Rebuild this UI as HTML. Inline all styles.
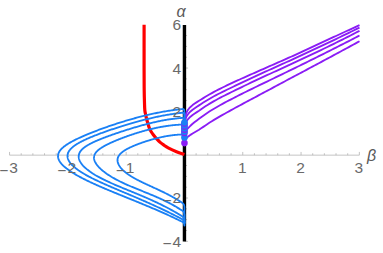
<!DOCTYPE html>
<html><head><meta charset="utf-8"><style>
html,body{margin:0;padding:0;background:#fff;}
body{width:383px;height:253px;position:relative;overflow:hidden;font-family:"Liberation Sans",sans-serif;}
.l{position:absolute;font-size:15.5px;line-height:16px;color:#6a6a6a;white-space:nowrap;}
.m{position:relative;top:2.5px;left:-1.1px}
.i{position:absolute;font-family:"Liberation Sans",sans-serif;font-style:italic;font-size:16px;line-height:16px;color:#5a5a5a;}
</style></head><body>
<svg width="383" height="253" viewBox="0 0 383 253" style="position:absolute;left:0;top:0">
<g stroke="#b4b4b4" stroke-width="0.8" fill="none">
<path d="M9.55,155.15 H359.35"/>
<path d="M9.55,155.15 v-3.20 M21.21,155.15 v-1.90 M32.87,155.15 v-1.90 M44.53,155.15 v-1.90 M56.19,155.15 v-1.90 M67.85,155.15 v-3.20 M79.51,155.15 v-1.90 M91.17,155.15 v-1.90 M102.83,155.15 v-1.90 M114.49,155.15 v-1.90 M126.15,155.15 v-3.20 M137.81,155.15 v-1.90 M149.47,155.15 v-1.90 M161.13,155.15 v-1.90 M172.79,155.15 v-1.90 M196.11,155.15 v-1.90 M207.77,155.15 v-1.90 M219.43,155.15 v-1.90 M231.09,155.15 v-1.90 M242.75,155.15 v-3.20 M254.41,155.15 v-1.90 M266.07,155.15 v-1.90 M277.73,155.15 v-1.90 M289.39,155.15 v-1.90 M301.05,155.15 v-3.20 M312.71,155.15 v-1.90 M324.37,155.15 v-1.90 M336.03,155.15 v-1.90 M347.69,155.15 v-1.90 M359.35,155.15 v-3.20 "/>
<path d="M184.45,241.34 h3.60 M184.45,230.51 h2.60 M184.45,219.68 h2.60 M184.45,208.85 h2.60 M184.45,198.02 h3.60 M184.45,187.19 h2.60 M184.45,176.36 h2.60 M184.45,165.53 h2.60 M184.45,143.87 h2.60 M184.45,133.04 h2.60 M184.45,122.21 h2.60 M184.45,111.38 h3.60 M184.45,100.55 h2.60 M184.45,89.72 h2.60 M184.45,78.89 h2.60 M184.45,68.06 h3.60 M184.45,57.23 h2.60 M184.45,46.40 h2.60 M184.45,35.57 h2.60 "/>
</g>
<path d="M184.45,25.00 V241.60" stroke="#000" stroke-width="3.4" fill="none"/>
<path d="M144.10,24.80 C144.10,32.33 144.08,59.13 144.10,70.00 C144.12,80.87 144.13,84.50 144.20,90.00 C144.27,95.50 144.40,99.67 144.50,103.00 C144.60,106.33 144.62,108.08 144.80,110.00 C144.98,111.92 145.32,113.08 145.60,114.50 C145.88,115.92 146.17,117.17 146.50,118.50 C146.83,119.83 147.13,120.92 147.60,122.50 C148.07,124.08 148.70,126.45 149.30,128.00 C149.90,129.55 150.50,130.63 151.20,131.80 C151.90,132.97 152.62,133.87 153.50,135.00 C154.38,136.13 155.43,137.42 156.50,138.60 C157.57,139.78 158.65,141.00 159.90,142.10 C161.15,143.20 162.62,144.23 164.00,145.20 C165.38,146.17 166.12,146.82 168.20,147.90 C170.28,148.98 173.80,150.62 176.50,151.70 C179.20,152.78 183.08,153.95 184.40,154.40" stroke="#ff0000" stroke-width="3.2" fill="none"/>
<path d="M184.45,122.00 L184.60,119.86 L184.76,118.80 L184.91,117.94 L185.07,117.19 L185.22,116.52 L185.37,115.92 L185.53,115.36 L185.68,114.84 L185.83,114.36 L185.99,113.92 L186.14,113.49 L186.30,113.10 L186.45,112.73 L186.60,112.37 L186.76,112.04 L186.91,111.72 L187.07,111.42 L187.22,111.13 L187.37,110.85 L187.53,110.59 L187.68,110.34 L187.83,110.09 L187.99,109.86 L188.14,109.64 L188.30,109.42 L188.45,109.21 L188.60,109.00 L188.76,108.81 L188.91,108.62 L189.07,108.43 L189.22,108.25 L189.37,108.07 L189.53,107.90 L189.68,107.73 L189.83,107.56 L189.99,107.40 L190.14,107.24 L190.30,107.09 L190.45,106.94 L192.59,105.09 L194.73,103.54 L196.87,102.13 L199.01,100.76 L201.15,99.41 L203.29,98.09 L205.43,96.79 L207.57,95.52 L209.71,94.28 L211.85,93.08 L213.99,91.91 L216.13,90.79 L218.27,89.68 L220.41,88.60 L222.55,87.54 L224.69,86.49 L226.83,85.45 L228.97,84.43 L231.11,83.42 L233.25,82.42 L235.39,81.43 L237.53,80.44 L239.67,79.47 L241.81,78.50 L243.95,77.54 L246.09,76.59 L248.23,75.63 L250.37,74.69 L252.51,73.74 L254.65,72.80 L256.79,71.86 L258.93,70.91 L261.07,69.97 L263.21,69.03 L265.35,68.09 L267.49,67.15 L269.63,66.21 L271.77,65.27 L273.91,64.33 L276.04,63.39 L278.18,62.44 L280.32,61.50 L282.46,60.55 L284.60,59.61 L286.74,58.66 L288.88,57.70 L291.02,56.75 L293.16,55.79 L295.30,54.81 L297.44,53.84 L299.58,52.85 L301.72,51.87 L303.86,50.87 L306.00,49.88 L308.14,48.88 L310.28,47.88 L312.42,46.88 L314.56,45.87 L316.70,44.87 L318.84,43.88 L320.98,42.88 L323.12,41.89 L325.26,40.90 L327.40,39.92 L329.54,38.93 L331.68,37.95 L333.82,36.96 L335.96,35.97 L338.10,34.98 L340.24,34.00 L342.38,33.01 L344.52,32.02 L346.66,31.03 L348.80,30.04 L350.94,29.05 L353.08,28.06 L355.22,27.07 L357.36,26.08 L359.50,25.09" stroke="#8a1cf5" stroke-width="1.85" fill="none" stroke-linejoin="round"/>
<path d="M184.45,125.40 L184.60,123.00 L184.76,121.97 L184.91,121.18 L185.07,120.51 L185.22,119.92 L185.37,119.40 L185.53,118.92 L185.68,118.48 L185.83,118.07 L185.99,117.69 L186.14,117.34 L186.30,117.00 L186.45,116.69 L186.60,116.39 L186.76,116.10 L186.91,115.83 L187.07,115.57 L187.22,115.32 L187.37,115.08 L187.53,114.85 L187.68,114.63 L187.83,114.41 L187.99,114.20 L188.14,114.00 L188.30,113.81 L188.45,113.62 L188.60,113.43 L188.76,113.25 L188.91,113.08 L189.07,112.90 L189.22,112.74 L189.37,112.57 L189.53,112.41 L189.68,112.25 L189.83,112.09 L189.99,111.93 L190.14,111.78 L190.30,111.63 L190.45,111.48 L192.59,109.68 L194.73,108.15 L196.87,106.74 L199.01,105.36 L201.15,103.95 L203.29,102.58 L205.43,101.24 L207.57,99.95 L209.71,98.69 L211.85,97.47 L213.99,96.29 L216.13,95.15 L218.27,94.04 L220.41,92.95 L222.55,91.88 L224.69,90.83 L226.83,89.79 L228.97,88.76 L231.11,87.73 L233.25,86.72 L235.39,85.70 L237.53,84.69 L239.67,83.68 L241.81,82.66 L243.95,81.65 L246.09,80.64 L248.23,79.62 L250.37,78.62 L252.51,77.61 L254.65,76.62 L256.79,75.62 L258.93,74.64 L261.07,73.66 L263.21,72.69 L265.35,71.71 L267.49,70.74 L269.63,69.77 L271.77,68.80 L273.91,67.84 L276.04,66.87 L278.18,65.90 L280.32,64.93 L282.46,63.96 L284.60,62.99 L286.74,62.02 L288.88,61.04 L291.02,60.06 L293.16,59.08 L295.30,58.10 L297.44,57.12 L299.58,56.13 L301.72,55.14 L303.86,54.15 L306.00,53.16 L308.14,52.16 L310.28,51.17 L312.42,50.17 L314.56,49.16 L316.70,48.16 L318.84,47.16 L320.98,46.15 L323.12,45.14 L325.26,44.13 L327.40,43.12 L329.54,42.10 L331.68,41.08 L333.82,40.06 L335.96,39.04 L338.10,38.01 L340.24,36.98 L342.38,35.95 L344.52,34.91 L346.66,33.88 L348.80,32.84 L350.94,31.79 L353.08,30.75 L355.22,29.70 L357.36,28.65 L359.50,27.60" stroke="#8a1cf5" stroke-width="1.85" fill="none" stroke-linejoin="round"/>
<path d="M184.45,129.60 L184.60,127.08 L184.76,126.10 L184.91,125.36 L185.07,124.76 L185.22,124.23 L185.37,123.77 L185.53,123.36 L185.68,122.98 L185.83,122.62 L185.99,122.30 L186.14,121.99 L186.30,121.70 L186.45,121.43 L186.60,121.17 L186.76,120.92 L186.91,120.68 L187.07,120.46 L187.22,120.24 L187.37,120.03 L187.53,119.82 L187.68,119.62 L187.83,119.43 L187.99,119.25 L188.14,119.06 L188.30,118.89 L188.45,118.71 L188.60,118.54 L188.76,118.38 L188.91,118.22 L189.07,118.06 L189.22,117.90 L189.37,117.74 L189.53,117.59 L189.68,117.44 L189.83,117.29 L189.99,117.14 L190.14,116.99 L190.30,116.85 L190.45,116.71 L192.59,114.97 L194.73,113.49 L196.87,112.11 L199.01,110.71 L201.15,109.22 L203.29,107.77 L205.43,106.35 L207.57,104.98 L209.71,103.65 L211.85,102.37 L213.99,101.13 L216.13,99.94 L218.27,98.78 L220.41,97.65 L222.55,96.54 L224.69,95.46 L226.83,94.38 L228.97,93.32 L231.11,92.27 L233.25,91.22 L235.39,90.18 L237.53,89.14 L239.67,88.11 L241.81,87.07 L243.95,86.04 L246.09,85.00 L248.23,83.97 L250.37,82.95 L252.51,81.93 L254.65,80.92 L256.79,79.91 L258.93,78.91 L261.07,77.92 L263.21,76.93 L265.35,75.95 L267.49,74.96 L269.63,73.98 L271.77,73.00 L273.91,72.03 L276.04,71.05 L278.18,70.07 L280.32,69.09 L282.46,68.11 L284.60,67.13 L286.74,66.15 L288.88,65.16 L291.02,64.17 L293.16,63.18 L295.30,62.19 L297.44,61.19 L299.58,60.20 L301.72,59.20 L303.86,58.20 L306.00,57.19 L308.14,56.19 L310.28,55.18 L312.42,54.16 L314.56,53.15 L316.70,52.13 L318.84,51.10 L320.98,50.08 L323.12,49.04 L325.26,48.01 L327.40,46.96 L329.54,45.92 L331.68,44.87 L333.82,43.81 L335.96,42.76 L338.10,41.69 L340.24,40.63 L342.38,39.56 L344.52,38.48 L346.66,37.40 L348.80,36.32 L350.94,35.23 L353.08,34.13 L355.22,33.04 L357.36,31.93 L359.50,30.83" stroke="#8a1cf5" stroke-width="1.85" fill="none" stroke-linejoin="round"/>
<path d="M184.45,136.30 L184.60,134.24 L184.76,133.50 L184.91,132.96 L185.07,132.53 L185.22,132.16 L185.37,131.83 L185.53,131.53 L185.68,131.26 L185.83,131.01 L185.99,130.77 L186.14,130.54 L186.30,130.32 L186.45,130.11 L186.60,129.90 L186.76,129.71 L186.91,129.51 L187.07,129.33 L187.22,129.14 L187.37,128.96 L187.53,128.79 L187.68,128.61 L187.83,128.44 L187.99,128.27 L188.14,128.10 L188.30,127.94 L188.45,127.77 L188.60,127.61 L188.76,127.45 L188.91,127.29 L189.07,127.13 L189.22,126.98 L189.37,126.82 L189.53,126.66 L189.68,126.51 L189.83,126.36 L189.99,126.20 L190.14,126.05 L190.30,125.90 L190.45,125.75 L192.59,123.81 L194.73,122.07 L196.87,120.43 L199.01,118.82 L201.15,117.19 L203.29,115.64 L205.43,114.15 L207.57,112.72 L209.71,111.34 L211.85,110.00 L213.99,108.70 L216.13,107.43 L218.27,106.19 L220.41,104.99 L222.55,103.82 L224.69,102.67 L226.83,101.54 L228.97,100.42 L231.11,99.32 L233.25,98.21 L235.39,97.11 L237.53,96.01 L239.67,94.92 L241.81,93.84 L243.95,92.77 L246.09,91.71 L248.23,90.65 L250.37,89.60 L252.51,88.56 L254.65,87.52 L256.79,86.48 L258.93,85.45 L261.07,84.42 L263.21,83.39 L265.35,82.36 L267.49,81.33 L269.63,80.29 L271.77,79.26 L273.91,78.22 L276.04,77.18 L278.18,76.14 L280.32,75.10 L282.46,74.06 L284.60,73.02 L286.74,71.98 L288.88,70.94 L291.02,69.90 L293.16,68.86 L295.30,67.82 L297.44,66.78 L299.58,65.73 L301.72,64.68 L303.86,63.62 L306.00,62.57 L308.14,61.51 L310.28,60.45 L312.42,59.39 L314.56,58.33 L316.70,57.26 L318.84,56.20 L320.98,55.13 L323.12,54.06 L325.26,52.99 L327.40,51.92 L329.54,50.85 L331.68,49.77 L333.82,48.69 L335.96,47.61 L338.10,46.53 L340.24,45.44 L342.38,44.35 L344.52,43.26 L346.66,42.16 L348.80,41.07 L350.94,39.96 L353.08,38.86 L355.22,37.76 L357.36,36.65 L359.50,35.54" stroke="#8a1cf5" stroke-width="1.85" fill="none" stroke-linejoin="round"/>
<path d="M184.45,142.80 L184.60,141.62 L184.76,141.09 L184.91,140.67 L185.07,140.32 L185.22,140.00 L185.37,139.71 L185.53,139.45 L185.68,139.21 L185.83,138.98 L185.99,138.77 L186.14,138.57 L186.30,138.38 L186.45,138.19 L186.60,138.02 L186.76,137.86 L186.91,137.70 L187.07,137.54 L187.22,137.40 L187.37,137.25 L187.53,137.12 L187.68,136.98 L187.83,136.85 L187.99,136.72 L188.14,136.60 L188.30,136.47 L188.45,136.35 L188.60,136.23 L188.76,136.12 L188.91,136.00 L189.07,135.89 L189.22,135.77 L189.37,135.66 L189.53,135.55 L189.68,135.43 L189.83,135.32 L189.99,135.21 L190.14,135.10 L190.30,134.99 L190.45,134.88 L192.59,133.50 L194.73,132.23 L196.87,130.98 L199.01,129.69 L201.15,128.31 L203.29,126.89 L205.43,125.46 L207.57,124.02 L209.71,122.60 L211.85,121.21 L213.99,119.88 L216.13,118.61 L218.27,117.36 L220.41,116.13 L222.55,114.92 L224.69,113.71 L226.83,112.52 L228.97,111.34 L231.11,110.16 L233.25,108.98 L235.39,107.81 L237.53,106.65 L239.67,105.49 L241.81,104.33 L243.95,103.18 L246.09,102.03 L248.23,100.88 L250.37,99.74 L252.51,98.59 L254.65,97.45 L256.79,96.31 L258.93,95.17 L261.07,94.03 L263.21,92.88 L265.35,91.74 L267.49,90.60 L269.63,89.45 L271.77,88.31 L273.91,87.16 L276.04,86.02 L278.18,84.87 L280.32,83.73 L282.46,82.59 L284.60,81.44 L286.74,80.30 L288.88,79.16 L291.02,78.02 L293.16,76.88 L295.30,75.75 L297.44,74.61 L299.58,73.47 L301.72,72.33 L303.86,71.20 L306.00,70.06 L308.14,68.92 L310.28,67.78 L312.42,66.64 L314.56,65.50 L316.70,64.36 L318.84,63.22 L320.98,62.07 L323.12,60.93 L325.26,59.78 L327.40,58.63 L329.54,57.48 L331.68,56.33 L333.82,55.18 L335.96,54.02 L338.10,52.87 L340.24,51.71 L342.38,50.55 L344.52,49.39 L346.66,48.23 L348.80,47.07 L350.94,45.91 L353.08,44.74 L355.22,43.58 L357.36,42.41 L359.50,41.24" stroke="#8a1cf5" stroke-width="1.85" fill="none" stroke-linejoin="round"/>
<path d="M184.45,122.70 L184.45,111.41 Q184.45,108.81 182.10,109.07 L181.10,109.18 L179.87,109.31 L178.64,109.44 L177.42,109.58 L176.21,109.73 L175.00,109.88 L173.80,110.04 L172.60,110.21 L171.41,110.38 L170.23,110.55 L169.05,110.73 L167.88,110.92 L166.72,111.11 L165.56,111.30 L164.41,111.50 L163.26,111.70 L162.12,111.90 L160.99,112.11 L159.86,112.33 L158.74,112.55 L157.63,112.77 L156.52,112.99 L155.42,113.22 L154.32,113.45 L153.23,113.68 L152.15,113.92 L151.07,114.16 L150.00,114.40 L148.93,114.64 L147.88,114.89 L146.82,115.14 L145.78,115.39 L144.74,115.64 L143.70,115.89 L142.67,116.15 L141.65,116.41 L140.64,116.67 L139.63,116.93 L138.62,117.19 L137.63,117.46 L136.64,117.72 L135.65,117.99 L134.67,118.26 L133.70,118.53 L132.74,118.80 L131.78,119.07 L130.82,119.34 L129.88,119.61 L128.94,119.88 L128.00,120.16 L127.07,120.43 L126.15,120.71 L125.23,120.98 L124.32,121.26 L123.42,121.53 L122.52,121.81 L121.63,122.08 L120.74,122.36 L119.87,122.64 L118.99,122.91 L118.13,123.19 L117.27,123.47 L116.41,123.74 L115.56,124.02 L114.72,124.30 L113.89,124.57 L113.06,124.85 L112.23,125.12 L111.42,125.40 L110.61,125.67 L109.80,125.95 L109.00,126.22 L108.21,126.49 L107.42,126.77 L106.64,127.04 L105.87,127.31 L105.10,127.58 L104.34,127.85 L103.59,128.12 L102.84,128.39 L102.10,128.66 L101.36,128.93 L100.63,129.19 L99.91,129.46 L99.19,129.73 L98.48,129.99 L97.77,130.26 L97.07,130.52 L96.38,130.78 L95.69,131.04 L95.01,131.30 L94.34,131.56 L93.67,131.82 L93.01,132.08 L92.35,132.34 L91.70,132.60 L91.06,132.85 L90.42,133.11 L89.79,133.36 L89.16,133.61 L88.55,133.87 L87.93,134.12 L87.33,134.37 L86.73,134.62 L86.13,134.87 L85.55,135.11 L84.96,135.36 L84.39,135.61 L83.82,135.85 L83.26,136.10 L82.70,136.34 L82.15,136.58 L81.61,136.83 L81.07,137.07 L80.54,137.31 L80.01,137.55 L79.49,137.78 L78.98,138.02 L78.47,138.26 L77.97,138.50 L77.48,138.73 L76.99,138.97 L76.51,139.20 L76.03,139.43 L75.56,139.66 L75.10,139.90 L74.64,140.13 L74.19,140.36 L73.74,140.59 L73.30,140.81 L72.87,141.04 L72.45,141.27 L72.03,141.50 L71.61,141.72 L71.20,141.95 L70.80,142.17 L70.41,142.40 L70.02,142.62 L69.63,142.84 L69.26,143.07 L68.89,143.29 L68.52,143.51 L68.16,143.73 L67.81,143.95 L67.47,144.17 L67.13,144.39 L66.79,144.61 L66.47,144.83 L66.15,145.05 L65.83,145.27 L65.52,145.49 L65.22,145.70 L64.92,145.92 L64.63,146.14 L64.35,146.35 L64.07,146.57 L63.80,146.79 L63.54,147.00 L63.28,147.22 L63.02,147.43 L62.78,147.65 L62.54,147.86 L62.30,148.08 L62.08,148.29 L61.85,148.51 L61.64,148.72 L61.43,148.94 L61.23,149.15 L61.03,149.37 L60.84,149.58 L60.65,149.79 L60.48,150.01 L60.30,150.22 L60.14,150.44 L59.98,150.65 L59.82,150.87 L59.68,151.08 L59.54,151.29 L59.40,151.51 L59.27,151.72 L59.15,151.94 L59.03,152.15 L58.92,152.37 L58.82,152.59 L58.72,152.80 L58.63,153.02 L58.54,153.23 L58.47,153.45 L58.39,153.67 L58.33,153.88 L58.27,154.10 L58.21,154.32 L58.16,154.54 L58.12,154.75 L58.09,154.97 L58.06,155.19 L58.03,155.41 L58.02,155.63 L58.00,155.85 L58.00,156.07 L58.00,156.29 L58.01,156.51 L58.02,156.73 L58.04,156.96 L58.07,157.18 L58.10,157.40 L58.14,157.62 L58.19,157.85 L58.24,158.07 L58.29,158.30 L58.36,158.52 L58.43,158.75 L58.50,158.98 L58.59,159.20 L58.67,159.43 L58.77,159.66 L58.87,159.89 L58.98,160.12 L59.09,160.35 L59.21,160.58 L59.33,160.81 L59.47,161.04 L59.60,161.27 L59.75,161.51 L59.90,161.74 L60.05,161.97 L60.22,162.21 L60.39,162.45 L60.56,162.68 L60.74,162.92 L60.93,163.16 L61.12,163.39 L61.32,163.63 L61.53,163.87 L61.74,164.11 L61.96,164.36 L62.19,164.60 L62.42,164.84 L62.65,165.08 L62.90,165.33 L63.15,165.57 L63.40,165.82 L63.66,166.06 L63.93,166.31 L64.21,166.56 L64.49,166.81 L64.77,167.06 L65.07,167.31 L65.37,167.56 L65.67,167.81 L65.98,168.06 L66.30,168.31 L66.62,168.57 L66.95,168.82 L67.29,169.08 L67.63,169.33 L67.98,169.59 L68.34,169.85 L68.70,170.11 L69.07,170.37 L69.44,170.63 L69.82,170.89 L70.21,171.15 L70.60,171.41 L71.00,171.67 L71.40,171.94 L71.81,172.20 L72.23,172.47 L72.65,172.73 L73.08,173.00 L73.52,173.27 L73.96,173.54 L74.41,173.81 L74.86,174.08 L75.32,174.35 L75.79,174.62 L76.26,174.90 L76.74,175.17 L77.22,175.45 L77.72,175.72 L78.21,176.00 L78.72,176.28 L79.23,176.56 L79.74,176.84 L80.27,177.12 L80.79,177.40 L81.33,177.68 L81.87,177.96 L82.42,178.25 L82.97,178.53 L83.53,178.82 L84.10,179.10 L84.67,179.39 L85.25,179.68 L85.83,179.97 L86.42,180.26 L87.02,180.55 L87.62,180.84 L88.23,181.14 L88.85,181.43 L89.47,181.73 L90.09,182.03 L90.73,182.32 L91.37,182.62 L92.02,182.92 L92.67,183.22 L93.33,183.53 L93.99,183.83 L94.66,184.13 L95.34,184.44 L96.02,184.75 L96.71,185.06 L97.41,185.36 L98.11,185.68 L98.82,185.99 L99.54,186.30 L100.26,186.61 L100.98,186.93 L101.72,187.25 L102.46,187.57 L103.20,187.89 L103.95,188.21 L104.71,188.53 L105.48,188.85 L106.25,189.18 L107.02,189.51 L107.81,189.84 L108.59,190.17 L109.39,190.50 L110.19,190.83 L111.00,191.17 L111.81,191.50 L112.63,191.84 L113.46,192.18 L114.29,192.53 L115.13,192.87 L115.97,193.22 L116.83,193.57 L117.68,193.92 L118.55,194.27 L119.42,194.62 L120.29,194.98 L121.17,195.34 L122.06,195.70 L122.96,196.06 L123.86,196.42 L124.76,196.79 L125.68,197.16 L126.60,197.53 L127.52,197.91 L128.45,198.29 L129.39,198.67 L130.34,199.05 L131.29,199.44 L132.24,199.82 L133.20,200.21 L134.17,200.61 L135.15,201.01 L136.13,201.41 L137.12,201.81 L138.11,202.22 L139.11,202.63 L140.12,203.04 L141.13,203.46 L142.15,203.88 L143.17,204.30 L144.20,204.73 L145.24,205.16 L146.28,205.59 L147.33,206.03 L148.39,206.47 L149.45,206.92 L150.52,207.37 L151.59,207.83 L152.67,208.29 L153.76,208.75 L154.85,209.22 L155.95,209.69 L157.06,210.17 L158.17,210.66 L159.29,211.14 L160.41,211.64 L161.54,212.14 L162.68,212.64 L163.82,213.15 L164.97,213.66 L166.12,214.18 L167.28,214.71 L168.45,215.24 L169.62,215.78 L170.80,216.33 L171.99,216.88 L173.18,217.43 L174.38,218.00 L175.58,218.57 L176.80,219.15 L178.01,219.73 L179.24,220.32 L180.46,220.92 L181.70,221.53 L182.50,221.92 Q184.45,222.87 184.45,225.47 L184.45,223.50" stroke="#1a80f5" stroke-width="1.85" fill="none" stroke-linejoin="round"/>
<path d="M184.45,125.40 L184.45,115.12 Q184.45,112.52 182.10,112.79 L181.10,112.91 L179.96,113.03 L178.83,113.16 L177.70,113.29 L176.58,113.44 L175.47,113.58 L174.36,113.73 L173.26,113.89 L172.16,114.05 L171.07,114.22 L169.98,114.39 L168.90,114.57 L167.83,114.75 L166.76,114.93 L165.70,115.12 L164.64,115.31 L163.59,115.51 L162.54,115.71 L161.50,115.91 L160.47,116.11 L159.44,116.32 L158.41,116.53 L157.40,116.74 L156.39,116.96 L155.38,117.18 L154.38,117.40 L153.39,117.62 L152.40,117.85 L151.41,118.07 L150.44,118.30 L149.47,118.53 L148.50,118.77 L147.54,119.00 L146.58,119.24 L145.64,119.47 L144.69,119.71 L143.76,119.95 L142.82,120.19 L141.90,120.43 L140.98,120.67 L140.06,120.92 L139.16,121.16 L138.25,121.40 L137.36,121.65 L136.47,121.89 L135.58,122.14 L134.70,122.39 L133.83,122.63 L132.96,122.88 L132.09,123.13 L131.24,123.38 L130.39,123.62 L129.54,123.87 L128.70,124.12 L127.87,124.37 L127.04,124.61 L126.22,124.86 L125.40,125.11 L124.59,125.35 L123.78,125.60 L122.98,125.85 L122.19,126.09 L121.40,126.34 L120.62,126.58 L119.84,126.83 L119.07,127.07 L118.30,127.32 L117.54,127.56 L116.79,127.81 L116.04,128.05 L115.30,128.29 L114.56,128.53 L113.83,128.77 L113.10,129.01 L112.39,129.25 L111.67,129.49 L110.96,129.73 L110.26,129.97 L109.56,130.21 L108.87,130.44 L108.19,130.68 L107.51,130.91 L106.83,131.15 L106.17,131.38 L105.50,131.61 L104.85,131.85 L104.20,132.08 L103.55,132.31 L102.91,132.54 L102.28,132.77 L101.65,133.00 L101.03,133.22 L100.41,133.45 L99.80,133.68 L99.19,133.90 L98.59,134.13 L98.00,134.35 L97.41,134.58 L96.83,134.80 L96.25,135.02 L95.68,135.24 L95.12,135.46 L94.56,135.68 L94.00,135.90 L93.46,136.12 L92.91,136.34 L92.38,136.56 L91.85,136.78 L91.32,136.99 L90.80,137.21 L90.29,137.42 L89.78,137.64 L89.28,137.85 L88.78,138.07 L88.29,138.28 L87.81,138.49 L87.33,138.70 L86.85,138.91 L86.39,139.13 L85.92,139.34 L85.47,139.55 L85.02,139.76 L84.57,139.97 L84.13,140.18 L83.70,140.38 L83.27,140.59 L82.85,140.80 L82.43,141.01 L82.02,141.21 L81.62,141.42 L81.22,141.63 L80.83,141.83 L80.44,142.04 L80.06,142.25 L79.68,142.45 L79.31,142.66 L78.94,142.86 L78.59,143.07 L78.23,143.27 L77.88,143.48 L77.54,143.68 L77.21,143.88 L76.88,144.09 L76.55,144.29 L76.23,144.50 L75.92,144.70 L75.61,144.90 L75.31,145.11 L75.01,145.31 L74.72,145.52 L74.44,145.72 L74.16,145.92 L73.89,146.13 L73.62,146.33 L73.36,146.53 L73.10,146.74 L72.85,146.94 L72.61,147.15 L72.37,147.35 L72.13,147.55 L71.91,147.76 L71.68,147.96 L71.47,148.17 L71.26,148.37 L71.05,148.58 L70.85,148.78 L70.66,148.99 L70.47,149.19 L70.29,149.40 L70.12,149.61 L69.95,149.81 L69.78,150.02 L69.62,150.23 L69.47,150.43 L69.32,150.64 L69.18,150.85 L69.05,151.06 L68.92,151.26 L68.79,151.47 L68.67,151.68 L68.56,151.89 L68.45,152.10 L68.35,152.31 L68.25,152.52 L68.16,152.73 L68.08,152.94 L68.00,153.15 L67.93,153.36 L67.86,153.58 L67.80,153.79 L67.74,154.00 L67.69,154.21 L67.65,154.43 L67.61,154.64 L67.58,154.86 L67.55,155.07 L67.53,155.29 L67.51,155.50 L67.50,155.72 L67.50,155.93 L67.50,156.15 L67.51,156.37 L67.52,156.59 L67.54,156.81 L67.56,157.02 L67.60,157.24 L67.63,157.46 L67.67,157.68 L67.72,157.90 L67.77,158.12 L67.83,158.35 L67.90,158.57 L67.97,158.79 L68.04,159.01 L68.12,159.24 L68.21,159.46 L68.30,159.68 L68.40,159.91 L68.51,160.13 L68.62,160.36 L68.73,160.59 L68.86,160.81 L68.98,161.04 L69.12,161.27 L69.25,161.50 L69.40,161.73 L69.55,161.95 L69.71,162.18 L69.87,162.41 L70.04,162.64 L70.21,162.88 L70.39,163.11 L70.57,163.34 L70.76,163.57 L70.96,163.80 L71.16,164.04 L71.37,164.27 L71.58,164.51 L71.80,164.74 L72.02,164.98 L72.26,165.21 L72.49,165.45 L72.73,165.69 L72.98,165.92 L73.23,166.16 L73.49,166.40 L73.76,166.64 L74.03,166.88 L74.30,167.12 L74.59,167.36 L74.87,167.60 L75.17,167.84 L75.47,168.08 L75.77,168.32 L76.08,168.57 L76.40,168.81 L76.72,169.05 L77.05,169.30 L77.38,169.54 L77.72,169.79 L78.07,170.03 L78.42,170.28 L78.77,170.53 L79.14,170.78 L79.50,171.02 L79.88,171.27 L80.26,171.52 L80.64,171.77 L81.03,172.02 L81.43,172.27 L81.83,172.52 L82.24,172.78 L82.65,173.03 L83.07,173.28 L83.50,173.54 L83.93,173.79 L84.36,174.05 L84.81,174.30 L85.25,174.56 L85.71,174.82 L86.17,175.07 L86.63,175.33 L87.10,175.59 L87.58,175.85 L88.06,176.11 L88.55,176.37 L89.04,176.64 L89.54,176.90 L90.05,177.16 L90.56,177.43 L91.08,177.69 L91.60,177.96 L92.13,178.22 L92.66,178.49 L93.20,178.76 L93.74,179.03 L94.29,179.30 L94.85,179.57 L95.41,179.84 L95.98,180.12 L96.56,180.39 L97.14,180.67 L97.72,180.94 L98.31,181.22 L98.91,181.50 L99.51,181.78 L100.12,182.06 L100.73,182.34 L101.35,182.62 L101.98,182.91 L102.61,183.19 L103.25,183.48 L103.89,183.77 L104.54,184.06 L105.19,184.35 L105.85,184.64 L106.52,184.93 L107.19,185.23 L107.86,185.52 L108.55,185.82 L109.24,186.12 L109.93,186.42 L110.63,186.72 L111.33,187.03 L112.05,187.33 L112.76,187.64 L113.49,187.95 L114.21,188.26 L114.95,188.57 L115.69,188.89 L116.43,189.21 L117.18,189.52 L117.94,189.85 L118.70,190.17 L119.47,190.49 L120.25,190.82 L121.03,191.15 L121.81,191.48 L122.60,191.81 L123.40,192.15 L124.20,192.49 L125.01,192.83 L125.83,193.17 L126.65,193.52 L127.47,193.87 L128.30,194.22 L129.14,194.57 L129.98,194.93 L130.83,195.29 L131.69,195.65 L132.55,196.01 L133.41,196.38 L134.28,196.75 L135.16,197.13 L136.04,197.51 L136.93,197.89 L137.83,198.27 L138.73,198.66 L139.63,199.05 L140.54,199.44 L141.46,199.84 L142.38,200.24 L143.31,200.65 L144.25,201.06 L145.19,201.47 L146.13,201.89 L147.09,202.31 L148.04,202.73 L149.01,203.16 L149.97,203.59 L150.95,204.03 L151.93,204.47 L152.92,204.92 L153.91,205.37 L154.90,205.82 L155.91,206.28 L156.92,206.75 L157.93,207.22 L158.95,207.69 L159.98,208.17 L161.01,208.66 L162.05,209.15 L163.09,209.64 L164.14,210.14 L165.19,210.65 L166.25,211.16 L167.32,211.68 L168.39,212.20 L169.47,212.73 L170.55,213.26 L171.64,213.80 L172.74,214.35 L173.84,214.90 L174.94,215.46 L176.05,216.03 L177.17,216.60 L178.30,217.18 L179.42,217.76 L180.56,218.35 L181.70,218.95 L182.50,219.37 Q184.45,220.38 184.45,222.98 L184.45,223.50" stroke="#1a80f5" stroke-width="1.85" fill="none" stroke-linejoin="round"/>
<path d="M184.45,127.60 L184.45,120.34 Q184.45,117.74 182.10,117.94 L181.10,118.02 L180.07,118.10 L179.05,118.18 L178.04,118.28 L177.03,118.38 L176.02,118.48 L175.02,118.59 L174.03,118.71 L173.04,118.83 L172.06,118.96 L171.08,119.10 L170.10,119.24 L169.13,119.38 L168.17,119.53 L167.21,119.69 L166.26,119.85 L165.31,120.01 L164.37,120.18 L163.43,120.35 L162.50,120.52 L161.57,120.70 L160.65,120.88 L159.73,121.07 L158.82,121.25 L157.91,121.44 L157.01,121.64 L156.11,121.83 L155.22,122.03 L154.34,122.23 L153.46,122.44 L152.58,122.64 L151.71,122.85 L150.84,123.06 L149.98,123.27 L149.13,123.48 L148.28,123.70 L147.43,123.91 L146.59,124.13 L145.76,124.34 L144.93,124.56 L144.11,124.78 L143.29,125.00 L142.47,125.23 L141.66,125.45 L140.86,125.67 L140.06,125.89 L139.27,126.12 L138.48,126.34 L137.70,126.57 L136.92,126.79 L136.15,127.02 L135.38,127.24 L134.62,127.47 L133.86,127.70 L133.11,127.92 L132.36,128.15 L131.62,128.37 L130.88,128.60 L130.15,128.82 L129.43,129.05 L128.71,129.27 L127.99,129.50 L127.28,129.72 L126.57,129.94 L125.87,130.17 L125.18,130.39 L124.49,130.61 L123.80,130.83 L123.12,131.05 L122.45,131.27 L121.78,131.49 L121.11,131.71 L120.46,131.93 L119.80,132.14 L119.15,132.36 L118.51,132.58 L117.87,132.79 L117.24,133.01 L116.61,133.22 L115.99,133.43 L115.37,133.65 L114.76,133.86 L114.15,134.07 L113.55,134.28 L112.95,134.49 L112.36,134.70 L111.77,134.90 L111.19,135.11 L110.61,135.32 L110.04,135.52 L109.47,135.72 L108.91,135.93 L108.36,136.13 L107.81,136.33 L107.26,136.53 L106.72,136.73 L106.19,136.93 L105.66,137.13 L105.13,137.33 L104.61,137.53 L104.10,137.72 L103.59,137.92 L103.08,138.11 L102.58,138.31 L102.09,138.50 L101.60,138.70 L101.12,138.89 L100.64,139.08 L100.17,139.27 L99.70,139.46 L99.24,139.65 L98.78,139.84 L98.32,140.03 L97.88,140.22 L97.43,140.41 L97.00,140.59 L96.57,140.78 L96.14,140.97 L95.72,141.15 L95.30,141.34 L94.89,141.52 L94.48,141.71 L94.08,141.89 L93.69,142.07 L93.30,142.26 L92.91,142.44 L92.53,142.62 L92.15,142.81 L91.78,142.99 L91.42,143.17 L91.06,143.35 L90.71,143.54 L90.36,143.72 L90.01,143.90 L89.67,144.08 L89.34,144.26 L89.01,144.44 L88.69,144.63 L88.37,144.81 L88.05,144.99 L87.75,145.17 L87.44,145.35 L87.15,145.53 L86.85,145.71 L86.56,145.90 L86.28,146.08 L86.01,146.26 L85.73,146.44 L85.47,146.62 L85.20,146.81 L84.95,146.99 L84.70,147.17 L84.45,147.35 L84.21,147.54 L83.97,147.72 L83.74,147.90 L83.52,148.09 L83.30,148.27 L83.08,148.46 L82.87,148.64 L82.67,148.83 L82.47,149.01 L82.27,149.20 L82.08,149.39 L81.90,149.57 L81.72,149.76 L81.55,149.95 L81.38,150.14 L81.21,150.33 L81.05,150.52 L80.90,150.71 L80.75,150.90 L80.61,151.09 L80.47,151.28 L80.34,151.47 L80.21,151.66 L80.09,151.86 L79.97,152.05 L79.86,152.24 L79.75,152.44 L79.65,152.64 L79.56,152.83 L79.46,153.03 L79.38,153.23 L79.30,153.42 L79.22,153.62 L79.15,153.82 L79.08,154.02 L79.02,154.22 L78.97,154.42 L78.92,154.63 L78.87,154.83 L78.83,155.03 L78.80,155.24 L78.77,155.44 L78.75,155.65 L78.73,155.85 L78.71,156.06 L78.70,156.27 L78.70,156.48 L78.70,156.68 L78.71,156.89 L78.72,157.10 L78.74,157.32 L78.76,157.53 L78.79,157.74 L78.82,157.95 L78.86,158.17 L78.90,158.38 L78.95,158.60 L79.00,158.81 L79.06,159.03 L79.12,159.25 L79.19,159.46 L79.26,159.68 L79.34,159.90 L79.43,160.12 L79.52,160.34 L79.61,160.56 L79.71,160.78 L79.82,161.01 L79.93,161.23 L80.04,161.45 L80.16,161.68 L80.29,161.90 L80.42,162.13 L80.55,162.35 L80.69,162.58 L80.84,162.81 L80.99,163.03 L81.15,163.26 L81.31,163.49 L81.47,163.72 L81.65,163.95 L81.82,164.18 L82.01,164.41 L82.19,164.64 L82.39,164.88 L82.58,165.11 L82.79,165.34 L82.99,165.57 L83.21,165.81 L83.42,166.04 L83.65,166.28 L83.88,166.51 L84.11,166.75 L84.35,166.98 L84.59,167.22 L84.84,167.46 L85.10,167.69 L85.36,167.93 L85.62,168.17 L85.89,168.41 L86.17,168.65 L86.45,168.89 L86.73,169.12 L87.02,169.36 L87.32,169.60 L87.62,169.84 L87.92,170.08 L88.24,170.33 L88.55,170.57 L88.87,170.81 L89.20,171.05 L89.53,171.29 L89.87,171.53 L90.21,171.78 L90.56,172.02 L90.91,172.26 L91.27,172.51 L91.63,172.75 L92.00,172.99 L92.37,173.24 L92.75,173.48 L93.13,173.73 L93.52,173.97 L93.92,174.22 L94.32,174.46 L94.72,174.71 L95.13,174.95 L95.54,175.20 L95.96,175.44 L96.39,175.69 L96.82,175.94 L97.25,176.18 L97.69,176.43 L98.14,176.68 L98.59,176.93 L99.04,177.17 L99.50,177.42 L99.97,177.67 L100.44,177.92 L100.92,178.17 L101.40,178.42 L101.89,178.67 L102.38,178.92 L102.87,179.17 L103.38,179.42 L103.88,179.67 L104.40,179.92 L104.91,180.17 L105.44,180.42 L105.96,180.68 L106.50,180.93 L107.04,181.18 L107.58,181.44 L108.13,181.69 L108.68,181.95 L109.24,182.20 L109.80,182.46 L110.37,182.72 L110.95,182.98 L111.53,183.23 L112.11,183.49 L112.70,183.75 L113.30,184.01 L113.90,184.27 L114.50,184.54 L115.11,184.80 L115.73,185.06 L116.35,185.33 L116.98,185.60 L117.61,185.86 L118.24,186.13 L118.88,186.40 L119.53,186.67 L120.18,186.94 L120.84,187.22 L121.50,187.49 L122.17,187.77 L122.84,188.04 L123.52,188.32 L124.20,188.60 L124.89,188.89 L125.58,189.17 L126.28,189.46 L126.98,189.74 L127.69,190.03 L128.41,190.32 L129.12,190.62 L129.85,190.91 L130.58,191.21 L131.31,191.51 L132.05,191.81 L132.80,192.12 L133.55,192.43 L134.30,192.74 L135.06,193.05 L135.83,193.36 L136.60,193.68 L137.37,194.00 L138.15,194.33 L138.94,194.66 L139.73,194.99 L140.53,195.32 L141.33,195.66 L142.13,196.00 L142.95,196.34 L143.76,196.69 L144.59,197.04 L145.41,197.40 L146.25,197.76 L147.08,198.13 L147.93,198.50 L148.77,198.87 L149.63,199.25 L150.48,199.63 L151.35,200.02 L152.22,200.41 L153.09,200.81 L153.97,201.22 L154.85,201.62 L155.74,202.04 L156.64,202.46 L157.54,202.89 L158.44,203.32 L159.35,203.76 L160.27,204.20 L161.19,204.65 L162.11,205.11 L163.04,205.58 L163.98,206.05 L164.92,206.53 L165.86,207.02 L166.81,207.51 L167.77,208.01 L168.73,208.52 L169.70,209.04 L170.67,209.57 L171.65,210.10 L172.63,210.65 L173.62,211.20 L174.61,211.76 L175.61,212.33 L176.61,212.91 L177.62,213.50 L178.63,214.10 L179.65,214.71 L180.67,215.34 L181.70,215.97 L182.50,216.45 Q184.45,217.64 184.45,220.24 L184.45,223.50" stroke="#1a80f5" stroke-width="1.85" fill="none" stroke-linejoin="round"/>
<path d="M184.45,131.40 L184.45,127.03 Q184.45,124.43 182.10,124.56 L181.10,124.61 L180.23,124.66 L179.36,124.70 L178.50,124.76 L177.64,124.82 L176.78,124.88 L175.93,124.95 L175.08,125.02 L174.24,125.10 L173.41,125.18 L172.57,125.27 L171.74,125.36 L170.92,125.45 L170.10,125.55 L169.28,125.66 L168.47,125.76 L167.67,125.87 L166.87,125.99 L166.07,126.11 L165.27,126.23 L164.48,126.35 L163.70,126.48 L162.92,126.61 L162.14,126.75 L161.37,126.89 L160.61,127.03 L159.84,127.17 L159.08,127.32 L158.33,127.46 L157.58,127.61 L156.84,127.77 L156.10,127.92 L155.36,128.08 L154.63,128.24 L153.90,128.40 L153.18,128.57 L152.46,128.73 L151.74,128.90 L151.03,129.07 L150.33,129.24 L149.63,129.41 L148.93,129.59 L148.24,129.76 L147.55,129.94 L146.87,130.12 L146.19,130.30 L145.51,130.48 L144.84,130.66 L144.17,130.85 L143.51,131.03 L142.86,131.21 L142.20,131.40 L141.55,131.59 L140.91,131.77 L140.27,131.96 L139.64,132.15 L139.00,132.34 L138.38,132.53 L137.76,132.72 L137.14,132.91 L136.52,133.10 L135.92,133.30 L135.31,133.49 L134.71,133.68 L134.11,133.87 L133.52,134.06 L132.94,134.26 L132.35,134.45 L131.78,134.64 L131.20,134.84 L130.63,135.03 L130.07,135.22 L129.51,135.41 L128.95,135.61 L128.40,135.80 L127.85,135.99 L127.31,136.19 L126.77,136.38 L126.23,136.57 L125.70,136.76 L125.18,136.95 L124.66,137.14 L124.14,137.33 L123.63,137.53 L123.12,137.72 L122.62,137.90 L122.12,138.09 L121.62,138.28 L121.13,138.47 L120.65,138.66 L120.17,138.85 L119.69,139.03 L119.22,139.22 L118.75,139.41 L118.28,139.59 L117.82,139.78 L117.37,139.96 L116.92,140.15 L116.47,140.33 L116.03,140.51 L115.59,140.70 L115.16,140.88 L114.73,141.06 L114.30,141.24 L113.88,141.42 L113.47,141.60 L113.06,141.78 L112.65,141.96 L112.25,142.14 L111.85,142.31 L111.46,142.49 L111.07,142.67 L110.68,142.84 L110.30,143.02 L109.92,143.19 L109.55,143.37 L109.19,143.54 L108.82,143.72 L108.46,143.89 L108.11,144.06 L107.76,144.23 L107.41,144.41 L107.07,144.58 L106.74,144.75 L106.40,144.92 L106.08,145.09 L105.75,145.26 L105.43,145.43 L105.12,145.59 L104.81,145.76 L104.50,145.93 L104.20,146.10 L103.90,146.27 L103.61,146.43 L103.32,146.60 L103.04,146.77 L102.76,146.93 L102.48,147.10 L102.21,147.26 L101.95,147.43 L101.69,147.59 L101.43,147.76 L101.17,147.92 L100.93,148.09 L100.68,148.25 L100.44,148.42 L100.21,148.58 L99.97,148.75 L99.75,148.91 L99.52,149.07 L99.31,149.24 L99.09,149.40 L98.88,149.57 L98.68,149.73 L98.48,149.89 L98.28,150.06 L98.09,150.22 L97.90,150.39 L97.72,150.55 L97.54,150.72 L97.37,150.88 L97.20,151.05 L97.03,151.21 L96.87,151.38 L96.71,151.54 L96.56,151.71 L96.41,151.87 L96.27,152.04 L96.13,152.21 L96.00,152.37 L95.87,152.54 L95.74,152.71 L95.62,152.88 L95.50,153.04 L95.39,153.21 L95.28,153.38 L95.18,153.55 L95.08,153.72 L94.98,153.89 L94.89,154.06 L94.81,154.23 L94.72,154.41 L94.65,154.58 L94.57,154.75 L94.50,154.93 L94.44,155.10 L94.38,155.27 L94.32,155.45 L94.27,155.63 L94.23,155.80 L94.18,155.98 L94.15,156.16 L94.11,156.34 L94.08,156.51 L94.06,156.69 L94.04,156.87 L94.02,157.06 L94.01,157.24 L94.00,157.42 L94.00,157.60 L94.00,157.79 L94.01,157.97 L94.02,158.16 L94.03,158.34 L94.05,158.53 L94.07,158.72 L94.10,158.91 L94.14,159.10 L94.17,159.29 L94.21,159.48 L94.26,159.67 L94.31,159.86 L94.36,160.05 L94.42,160.25 L94.48,160.44 L94.55,160.64 L94.62,160.84 L94.70,161.03 L94.78,161.23 L94.86,161.43 L94.95,161.63 L95.05,161.83 L95.15,162.03 L95.25,162.23 L95.36,162.44 L95.47,162.64 L95.58,162.85 L95.70,163.05 L95.83,163.26 L95.96,163.46 L96.09,163.67 L96.23,163.88 L96.37,164.09 L96.52,164.30 L96.67,164.51 L96.82,164.72 L96.98,164.94 L97.14,165.15 L97.31,165.36 L97.49,165.58 L97.66,165.79 L97.84,166.01 L98.03,166.22 L98.22,166.44 L98.42,166.66 L98.61,166.88 L98.82,167.10 L99.03,167.32 L99.24,167.54 L99.46,167.76 L99.68,167.98 L99.90,168.21 L100.13,168.43 L100.37,168.65 L100.60,168.88 L100.85,169.10 L101.10,169.33 L101.35,169.55 L101.60,169.78 L101.86,170.01 L102.13,170.23 L102.40,170.46 L102.67,170.69 L102.95,170.92 L103.23,171.15 L103.52,171.38 L103.81,171.61 L104.11,171.84 L104.41,172.07 L104.71,172.30 L105.02,172.53 L105.33,172.77 L105.65,173.00 L105.97,173.23 L106.30,173.46 L106.63,173.70 L106.97,173.93 L107.31,174.16 L107.65,174.40 L108.00,174.63 L108.35,174.87 L108.71,175.10 L109.07,175.33 L109.44,175.57 L109.81,175.80 L110.18,176.04 L110.56,176.28 L110.94,176.51 L111.33,176.75 L111.73,176.98 L112.12,177.22 L112.52,177.45 L112.93,177.69 L113.34,177.93 L113.75,178.16 L114.17,178.40 L114.59,178.63 L115.02,178.87 L115.45,179.11 L115.89,179.34 L116.33,179.58 L116.78,179.82 L117.23,180.05 L117.68,180.29 L118.14,180.53 L118.60,180.76 L119.07,181.00 L119.54,181.24 L120.01,181.47 L120.50,181.71 L120.98,181.95 L121.47,182.18 L121.96,182.42 L122.46,182.66 L122.96,182.89 L123.47,183.13 L123.98,183.37 L124.49,183.61 L125.01,183.85 L125.54,184.08 L126.07,184.32 L126.60,184.56 L127.14,184.80 L127.68,185.04 L128.23,185.28 L128.78,185.52 L129.33,185.76 L129.89,186.00 L130.45,186.24 L131.02,186.48 L131.59,186.73 L132.17,186.97 L132.75,187.21 L133.34,187.46 L133.93,187.70 L134.52,187.95 L135.12,188.19 L135.72,188.44 L136.33,188.69 L136.94,188.94 L137.56,189.19 L138.18,189.44 L138.81,189.70 L139.44,189.95 L140.07,190.21 L140.71,190.47 L141.35,190.72 L142.00,190.98 L142.65,191.25 L143.31,191.51 L143.97,191.78 L144.63,192.05 L145.30,192.32 L145.97,192.59 L146.65,192.86 L147.33,193.14 L148.02,193.42 L148.71,193.70 L149.41,193.99 L150.11,194.28 L150.81,194.57 L151.52,194.86 L152.23,195.16 L152.95,195.46 L153.67,195.77 L154.40,196.08 L155.13,196.39 L155.86,196.71 L156.60,197.03 L157.35,197.36 L158.09,197.69 L158.85,198.02 L159.60,198.36 L160.36,198.71 L161.13,199.06 L161.90,199.42 L162.67,199.78 L163.45,200.15 L164.24,200.53 L165.02,200.91 L165.82,201.30 L166.61,201.69 L167.41,202.09 L168.22,202.50 L169.03,202.92 L169.84,203.35 L170.66,203.78 L171.48,204.22 L172.31,204.67 L173.14,205.14 L173.98,205.60 L174.82,206.08 L175.66,206.57 L176.51,207.07 L177.37,207.58 L178.22,208.10 L179.09,208.64 L179.95,209.18 L180.82,209.74 L181.70,210.31 L182.50,210.82 Q184.45,212.06 184.45,214.66 L184.45,223.50" stroke="#1a80f5" stroke-width="1.85" fill="none" stroke-linejoin="round"/>
<path d="M184.45,137.30 L184.45,136.98 Q184.45,134.38 182.10,134.49 L181.10,134.54 L180.46,134.56 L179.83,134.59 L179.20,134.62 L178.57,134.66 L177.94,134.70 L177.32,134.75 L176.71,134.80 L176.09,134.85 L175.48,134.91 L174.87,134.97 L174.26,135.03 L173.66,135.10 L173.06,135.17 L172.47,135.24 L171.87,135.32 L171.29,135.39 L170.70,135.47 L170.12,135.56 L169.54,135.65 L168.96,135.73 L168.39,135.83 L167.82,135.92 L167.25,136.01 L166.69,136.11 L166.13,136.21 L165.57,136.31 L165.01,136.42 L164.46,136.52 L163.92,136.63 L163.37,136.74 L162.83,136.85 L162.29,136.96 L161.76,137.08 L161.23,137.19 L160.70,137.31 L160.17,137.43 L159.65,137.55 L159.13,137.67 L158.62,137.79 L158.11,137.91 L157.60,138.04 L157.09,138.16 L156.59,138.29 L156.09,138.42 L155.59,138.54 L155.10,138.67 L154.61,138.80 L154.12,138.93 L153.64,139.06 L153.16,139.19 L152.68,139.33 L152.21,139.46 L151.74,139.59 L151.27,139.72 L150.81,139.86 L150.35,139.99 L149.89,140.13 L149.43,140.26 L148.98,140.40 L148.53,140.54 L148.09,140.67 L147.65,140.81 L147.21,140.94 L146.77,141.08 L146.34,141.22 L145.91,141.36 L145.49,141.49 L145.07,141.63 L144.65,141.77 L144.23,141.91 L143.82,142.05 L143.41,142.18 L143.00,142.32 L142.60,142.46 L142.20,142.60 L141.80,142.74 L141.41,142.88 L141.02,143.01 L140.63,143.15 L140.25,143.29 L139.87,143.43 L139.49,143.57 L139.12,143.70 L138.74,143.84 L138.38,143.98 L138.01,144.12 L137.65,144.26 L137.29,144.39 L136.94,144.53 L136.59,144.67 L136.24,144.81 L135.89,144.94 L135.55,145.08 L135.21,145.22 L134.88,145.36 L134.54,145.49 L134.21,145.63 L133.89,145.77 L133.57,145.90 L133.25,146.04 L132.93,146.18 L132.62,146.31 L132.31,146.45 L132.00,146.58 L131.70,146.72 L131.40,146.86 L131.10,146.99 L130.80,147.13 L130.51,147.26 L130.23,147.40 L129.94,147.54 L129.66,147.67 L129.38,147.81 L129.11,147.94 L128.84,148.08 L128.57,148.21 L128.30,148.35 L128.04,148.49 L127.78,148.62 L127.53,148.76 L127.28,148.89 L127.03,149.03 L126.78,149.16 L126.54,149.30 L126.30,149.43 L126.06,149.57 L125.83,149.71 L125.60,149.84 L125.37,149.98 L125.15,150.11 L124.93,150.25 L124.71,150.38 L124.50,150.52 L124.29,150.66 L124.08,150.79 L123.88,150.93 L123.68,151.07 L123.48,151.20 L123.29,151.34 L123.09,151.48 L122.91,151.62 L122.72,151.75 L122.54,151.89 L122.36,152.03 L122.19,152.17 L122.02,152.31 L121.85,152.44 L121.68,152.58 L121.52,152.72 L121.36,152.86 L121.20,153.00 L121.05,153.14 L120.90,153.28 L120.76,153.42 L120.61,153.56 L120.47,153.70 L120.34,153.85 L120.20,153.99 L120.07,154.13 L119.95,154.27 L119.82,154.41 L119.70,154.56 L119.58,154.70 L119.47,154.84 L119.36,154.99 L119.25,155.13 L119.15,155.28 L119.05,155.42 L118.95,155.57 L118.85,155.71 L118.76,155.86 L118.67,156.01 L118.59,156.15 L118.51,156.30 L118.43,156.45 L118.35,156.60 L118.28,156.75 L118.21,156.90 L118.14,157.05 L118.08,157.20 L118.02,157.35 L117.97,157.50 L117.91,157.65 L117.86,157.80 L117.82,157.95 L117.77,158.11 L117.73,158.26 L117.70,158.41 L117.66,158.57 L117.63,158.72 L117.60,158.88 L117.58,159.04 L117.56,159.19 L117.54,159.35 L117.53,159.50 L117.51,159.66 L117.51,159.82 L117.50,159.98 L117.50,160.14 L117.50,160.30 L117.51,160.46 L117.51,160.62 L117.53,160.78 L117.54,160.94 L117.56,161.10 L117.58,161.26 L117.60,161.43 L117.63,161.59 L117.66,161.75 L117.69,161.92 L117.73,162.08 L117.77,162.25 L117.81,162.41 L117.86,162.58 L117.91,162.75 L117.96,162.91 L118.02,163.08 L118.08,163.25 L118.14,163.42 L118.21,163.58 L118.27,163.75 L118.35,163.92 L118.42,164.09 L118.50,164.26 L118.58,164.43 L118.67,164.60 L118.76,164.78 L118.85,164.95 L118.94,165.12 L119.04,165.29 L119.14,165.46 L119.25,165.64 L119.35,165.81 L119.46,165.99 L119.58,166.16 L119.69,166.33 L119.81,166.51 L119.94,166.68 L120.06,166.86 L120.19,167.04 L120.33,167.21 L120.46,167.39 L120.60,167.56 L120.75,167.74 L120.89,167.92 L121.04,168.10 L121.19,168.27 L121.35,168.45 L121.51,168.63 L121.67,168.81 L121.84,168.99 L122.00,169.17 L122.18,169.35 L122.35,169.53 L122.53,169.71 L122.71,169.89 L122.90,170.07 L123.08,170.25 L123.27,170.43 L123.47,170.61 L123.67,170.79 L123.87,170.97 L124.07,171.15 L124.28,171.33 L124.49,171.51 L124.70,171.69 L124.92,171.88 L125.14,172.06 L125.36,172.24 L125.59,172.42 L125.82,172.60 L126.05,172.79 L126.28,172.97 L126.52,173.15 L126.77,173.33 L127.01,173.52 L127.26,173.70 L127.51,173.88 L127.77,174.07 L128.03,174.25 L128.29,174.43 L128.55,174.61 L128.82,174.80 L129.09,174.98 L129.37,175.17 L129.64,175.35 L129.92,175.53 L130.21,175.72 L130.50,175.90 L130.79,176.09 L131.08,176.27 L131.38,176.45 L131.68,176.64 L131.98,176.82 L132.29,177.01 L132.60,177.19 L132.91,177.38 L133.23,177.56 L133.54,177.75 L133.87,177.93 L134.19,178.12 L134.52,178.30 L134.85,178.49 L135.19,178.68 L135.53,178.86 L135.87,179.05 L136.22,179.23 L136.56,179.42 L136.92,179.61 L137.27,179.80 L137.63,179.98 L137.99,180.17 L138.35,180.36 L138.72,180.55 L139.09,180.74 L139.47,180.93 L139.84,181.12 L140.22,181.31 L140.61,181.50 L140.99,181.69 L141.38,181.88 L141.78,182.07 L142.17,182.26 L142.57,182.46 L142.98,182.65 L143.38,182.85 L143.79,183.04 L144.20,183.24 L144.62,183.43 L145.04,183.63 L145.46,183.83 L145.89,184.03 L146.31,184.23 L146.75,184.43 L147.18,184.63 L147.62,184.83 L148.06,185.03 L148.51,185.24 L148.95,185.44 L149.40,185.65 L149.86,185.86 L150.32,186.07 L150.78,186.28 L151.24,186.49 L151.71,186.70 L152.18,186.92 L152.65,187.14 L153.13,187.35 L153.61,187.57 L154.09,187.79 L154.58,188.02 L155.07,188.24 L155.56,188.47 L156.06,188.70 L156.56,188.93 L157.06,189.16 L157.56,189.40 L158.07,189.63 L158.58,189.87 L159.10,190.11 L159.62,190.36 L160.14,190.60 L160.67,190.85 L161.19,191.11 L161.72,191.36 L162.26,191.62 L162.80,191.88 L163.34,192.14 L163.88,192.41 L164.43,192.68 L164.98,192.96 L165.53,193.23 L166.09,193.51 L166.65,193.80 L167.21,194.09 L167.78,194.38 L168.35,194.68 L168.92,194.98 L169.50,195.28 L170.08,195.59 L170.66,195.90 L171.25,196.22 L171.84,196.55 L172.43,196.87 L173.03,197.21 L173.62,197.54 L174.23,197.89 L174.83,198.24 L175.44,198.59 L176.05,198.95 L176.67,199.32 L177.28,199.69 L177.91,200.07 L178.53,200.45 L179.16,200.84 L179.79,201.24 L180.42,201.64 L181.06,202.05 L181.70,202.47 L182.50,202.99 Q184.45,204.24 184.45,206.84 L184.45,223.50" stroke="#1a80f5" stroke-width="1.85" fill="none" stroke-linejoin="round"/>
<circle cx="184.45" cy="143.10" r="3.3" fill="#8a1cf5"/>
<circle cx="184.45" cy="137.40" r="3.3" fill="#1a80f5"/>
<circle cx="184.45" cy="133.00" r="3.3" fill="#8a1cf5"/>
<circle cx="184.45" cy="131.70" r="3.3" fill="#1a80f5"/>
<circle cx="184.45" cy="129.80" r="3.3" fill="#8a1cf5"/>
<circle cx="184.45" cy="128.50" r="3.3" fill="#1a80f5"/>
<circle cx="184.45" cy="126.60" r="3.3" fill="#8a1cf5"/>
<circle cx="184.45" cy="125.40" r="3.3" fill="#1a80f5"/>
<circle cx="184.45" cy="123.50" r="3.3" fill="#8a1cf5"/>
<circle cx="184.45" cy="122.50" r="3.3" fill="#1a80f5"/>
</svg>
<div class="l" style="left:9.1px;top:160.0px;width:40px;margin-left:-20px;text-align:center"><span class="m">−</span>3</div>
<div class="l" style="left:67.3px;top:160.0px;width:40px;margin-left:-20px;text-align:center"><span class="m">−</span>2</div>
<div class="l" style="left:125.6px;top:160.0px;width:40px;margin-left:-20px;text-align:center"><span class="m">−</span>1</div>
<div class="l" style="left:242.2px;top:160.0px;width:40px;margin-left:-20px;text-align:center">1</div>
<div class="l" style="left:300.5px;top:160.0px;width:40px;margin-left:-20px;text-align:center">2</div>
<div class="l" style="left:358.8px;top:160.0px;width:40px;margin-left:-20px;text-align:center">3</div>
<div class="l" style="left:181.2px;top:233.7px;width:40px;margin-left:-40px;text-align:right"><span class="m">−</span>4</div>
<div class="l" style="left:181.2px;top:190.4px;width:40px;margin-left:-40px;text-align:right"><span class="m">−</span>2</div>
<div class="l" style="left:181.2px;top:103.8px;width:40px;margin-left:-40px;text-align:right">2</div>
<div class="l" style="left:181.2px;top:60.5px;width:40px;margin-left:-40px;text-align:right">4</div>
<div class="l" style="left:181.2px;top:17.1px;width:40px;margin-left:-40px;text-align:right">6</div>
<div class="i" style="left:176.5px;top:3.5px;">α</div>
<div class="i" style="left:367px;top:148px;">β</div>
</body></html>
